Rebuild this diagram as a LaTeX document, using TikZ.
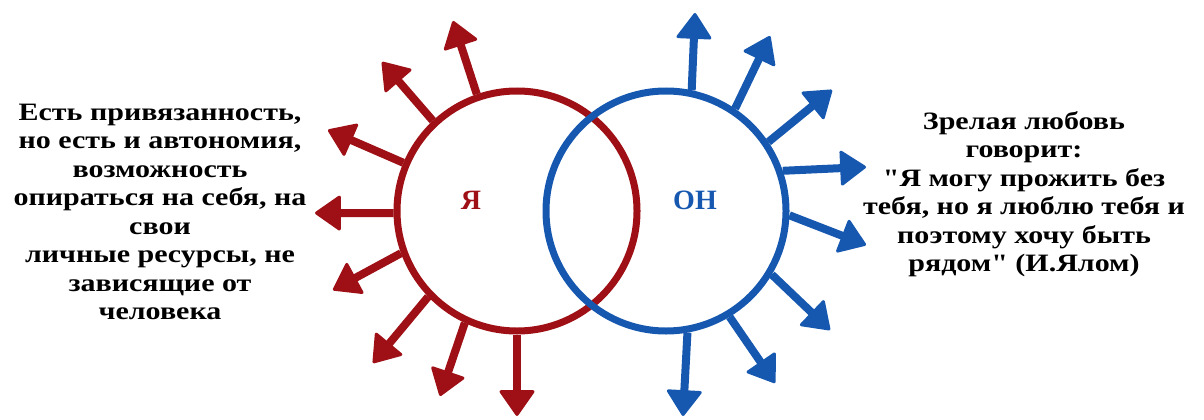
\documentclass[tikz,border=0pt]{standalone}
\usepackage{fontspec}
\setmainfont{Liberation Serif}
% wide bold serif for the side texts (no TeX ligature mapping, so " stays straight)
\newfontfamily\widebold{Liberation Serif Bold}[FakeStretch=1.2]
\usetikzlibrary{arrows.meta}

\definecolor{meRed}{RGB}{158,16,22}
\definecolor{himBlue}{RGB}{22,88,176}

\tikzset{
  ring/.style={circle, draw=#1, line width=7pt, minimum size=240pt, inner sep=0pt, fill=none},
  ray/.style={draw=#1, line width=8pt,
    -{Triangle[length=27pt, width=37pt, line width=3pt, round]}},
  label text/.style={font=\widebold\fontsize{25}{28.5}\selectfont, align=center, text=black},
  circle label/.style={font=\bfseries\fontsize{28}{30}\selectfont, text=#1}
}

\begin{document}
\begin{tikzpicture}[x=1pt, y=-1pt]
  \useasboundingbox (0,0) rectangle (1204,420);

  % the two overlapping circles
  \node[ring=meRed] (me) at (517,211) {};
  \node[ring=himBlue] (him) at (666,211) {};

  \node[circle label=meRed] (meName) at (471,200) {Я};
  \node[circle label=himBlue] (himName) at (695,200) {ОН};

  % tips of the red rays
  \coordinate (r1) at (453,21);
  \coordinate (r2) at (382,62);
  \coordinate (r3) at (328,130);
  \coordinate (r4) at (315,213);
  \coordinate (r5) at (333,290);
  \coordinate (r6) at (373,363);
  \coordinate (r7) at (440,396);
  \coordinate (r8) at (517,416);

  % tips of the blue rays
  \coordinate (b1) at (695,13);
  \coordinate (b2) at (770,36);
  \coordinate (b3) at (832,90);
  \coordinate (b4) at (866,167);
  \coordinate (b5) at (866,245);
  \coordinate (b6) at (830,330);
  \coordinate (b7) at (775,383);
  \coordinate (b8) at (683,416);

  % red rays leave the left circle
  \draw[ray=meRed] (me.109) -- (r1);
  \draw[ray=meRed] (me.133) -- (r2);
  \draw[ray=meRed] (me.157) -- (r3);
  \draw[ray=meRed] (me.181) -- (r4);
  \draw[ray=meRed] (me.200) -- (r5);
  \draw[ray=meRed] (me.224) -- (r6);
  \draw[ray=meRed] (me.245) -- (r7);
  \draw[ray=meRed] (me.270) -- (r8);

  % blue rays leave the right circle
  \draw[ray=himBlue] (him.78) -- (b1);
  \draw[ray=himBlue] (him.56) -- (b2);
  \draw[ray=himBlue] (him.34) -- (b3);
  \draw[ray=himBlue] (him.19) -- (b4);
  \draw[ray=himBlue] (him.-2) -- (b5);
  \draw[ray=himBlue] (him.-31) -- (b6);
  \draw[ray=himBlue] (him.-59) -- (b7);
  \draw[ray=himBlue] (him.-80) -- (b8);

  % side texts
  \node[label text] (leftText) at (160,212) {Есть привязанность,\\но есть и автономия,\\возможность\\опираться на себя, на\\свои\\личные ресурсы, не\\зависящие от\\человека};
  \node[label text] (rightText) at (1024,194) {Зрелая любовь\\говорит:\\"Я могу прожить без\\тебя, но я люблю тебя и\\поэтому хочу быть\\рядом" (И.Ялом)};
\end{tikzpicture}
\end{document}
